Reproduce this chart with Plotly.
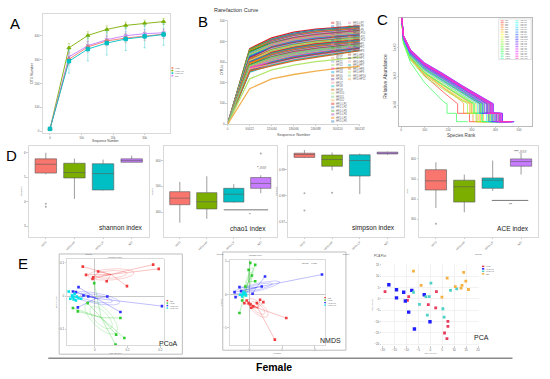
import numpy as np
import colorsys
import plotly.graph_objects as go

W, H = 550, 379
FONT = "Liberation Sans, Arial, sans-serif"

# ======================= DATA =======================
# Panel A: OTU rarefaction by group
A_seq = [0, 6000, 12000, 18000, 24000, 30000, 36000]
A_groups = ["HFD", "HFD-HP", "HFD-LP", "ND"]
A_HFD = [10, 301, 353, 378, 390, 398, 406]
A_HFD_HP = [10, 349, 401, 426, 443, 452, 459]
A_HFD_LP = [10, 293, 344, 369, 386, 397, 405]
A_ND = [10, 311, 358, 383, 400, 408, 412]
A_HFD_err = [2, 25, 22, 20, 20, 18, 18]
A_HFD_HP_err = [2, 18, 15, 15, 14, 13, 13]
A_HFD_LP_err = [2, 50, 50, 50, 48, 48, 45]
A_ND_err = [2, 22, 20, 20, 18, 18, 17]
A_xticks = [0, 10000, 20000, 30000]
A_yticks = [0, 100, 200, 300, 400]

# Panel B: per-sample rarefaction curves
SAMPLES = ([f"ND{i}" for i in range(1, 12)] + [f"HFD{i}" for i in range(1, 13)]
           + [f"HFD-LP{i}" for i in range(1, 13)] + [f"HFD-HP{i}" for i in range(1, 12)])
B_seq = [0, 60022, 120044, 180066, 240088, 300110, 360132]
B_otus = [
    [365, 418, 446, 460, 469, 476], [358, 412, 441, 456, 465, 472], [362, 409, 436, 451, 461, 468],
    [350, 405, 433, 449, 458, 466], [355, 401, 428, 445, 455, 463], [346, 398, 426, 442, 452, 460],
    [340, 396, 423, 439, 449, 457], [352, 394, 419, 435, 446, 454], [337, 390, 416, 432, 443, 451],
    [343, 388, 413, 429, 439, 448], [333, 385, 411, 427, 437, 445], [328, 381, 407, 423, 434, 442],
    [336, 379, 404, 420, 431, 440], [322, 376, 402, 418, 428, 437], [330, 374, 399, 415, 426, 434],
    [318, 371, 396, 412, 423, 432], [325, 368, 393, 409, 420, 429], [314, 366, 390, 406, 417, 426],
    [309, 362, 387, 403, 414, 423], [316, 359, 384, 400, 411, 420], [305, 357, 381, 397, 408, 418],
    [300, 353, 378, 394, 405, 415], [308, 350, 375, 391, 402, 412], [296, 347, 372, 388, 399, 409],
    [302, 344, 369, 385, 396, 406], [291, 341, 366, 382, 393, 403], [287, 338, 363, 379, 390, 400],
    [294, 335, 360, 376, 387, 398], [283, 332, 357, 373, 384, 395], [279, 329, 354, 370, 381, 392],
    [286, 326, 351, 367, 378, 389], [275, 322, 348, 364, 375, 386], [270, 318, 344, 360, 372, 383],
    [278, 315, 341, 357, 369, 380], [266, 311, 337, 353, 365, 377], [262, 306, 333, 349, 361, 374],
    [271, 303, 329, 346, 358, 372], [258, 300, 326, 343, 355, 370], [264, 297, 322, 339, 352, 368],
    [255, 293, 318, 335, 348, 365], [268, 290, 314, 331, 345, 362], [252, 286, 310, 327, 341, 358],
    [256, 282, 306, 323, 338, 356], [219, 262, 285, 302, 314, 324], [282, 322, 345, 360, 372, 384],
    [171, 219, 240, 256, 270, 280],
]
B_ticktext = ["0", "60022", "120044", "180066", "240088", "300110", "360132"]

# Panel C: rank-abundance curves (log10 relative abundance)
C_ranks = [1, 10, 40, 100, 180, 260]
C_levels = [-3.95, -4.28, -4.57]
C_smooth = [
    [-0.70, -1.75, -2.35, -2.98, -3.55],
    [-0.80, -1.76, -2.36, -2.90, -3.32, -3.75],
    [-0.78, -1.70, -2.25, -2.74, -3.14, -3.56],
    [-0.82, -1.80, -2.40, -2.95, -3.40, -3.82],
    [-0.72, -1.72, -2.30, -2.86, -3.40, -3.88],
    [-0.79, -1.69, -2.23, -2.71, -3.11, -3.53],
    [-0.77, -1.72, -2.30, -2.82, -3.24, -3.66],
    [-0.81, -1.66, -2.18, -2.64, -3.02, -3.43],
    [-0.76, -1.74, -2.33, -2.87, -3.30, -3.72],
    [-0.83, -1.68, -2.21, -2.68, -3.07, -3.49],
    [-0.78, -1.78, -2.38, -2.93, -3.37, -3.80],
    [-0.75, -1.64, -2.17, -2.64, -3.03, -3.45],
    [-0.80, -1.71, -2.27, -2.78, -3.19, -3.61],
    [-0.84, -1.82, -2.44, -3.00, -3.46, -3.86],
    [-0.77, -1.66, -2.20, -2.68, -3.07, -3.49],
    [-0.79, -1.75, -2.33, -2.86, -3.29, -3.70],
    [-0.82, -1.70, -2.25, -2.74, -3.15, -3.57],
    [-0.76, -1.62, -2.14, -2.60, -2.99, -3.40],
    [-0.70, -1.85, -2.52, -3.22, -3.88],
    [-0.74, -1.69, -2.24, -2.73, -3.13, -3.55],
    [-0.81, -1.76, -2.35, -2.88, -3.31, -3.73],
    [-0.75, -1.62, -2.14, -2.60, -2.99, -3.40],
    [-0.73, -1.66, -2.19, -2.67, -3.07, -3.49],
    [-0.77, -1.60, -2.11, -2.57, -2.95, -3.36],
    [-0.74, -1.68, -2.22, -2.71, -3.12, -3.54],
    [-0.72, -1.59, -2.10, -2.56, -2.94, -3.35],
    [-0.76, -1.72, -2.29, -2.80, -3.22, -3.64],
    [-0.73, -1.61, -2.12, -2.58, -2.97, -3.38],
    [-0.75, -1.65, -2.18, -2.66, -3.06, -3.47],
    [-0.71, -1.58, -2.09, -2.55, -2.93, -3.34],
    [-0.74, -1.63, -2.15, -2.62, -3.01, -3.42],
    [-0.72, -1.70, -2.26, -2.76, -3.17, -3.59],
    [-0.76, -1.60, -2.11, -2.57, -2.96, -3.37],
    [-0.73, -1.64, -2.16, -2.63, -3.03, -3.44],
    [-0.75, -1.58, -2.08, -2.54, -2.92, -3.33],
    [-0.71, -1.67, -2.21, -2.69, -3.09, -3.51],
    [-0.74, -1.61, -2.13, -2.59, -2.98, -3.39],
    [-0.72, -1.57, -2.07, -2.53, -2.91, -3.32],
    [-0.75, -1.63, -2.16, -2.63, -3.02, -3.43],
    [-0.73, -1.59, -2.10, -2.56, -2.95, -3.36],
    [-0.76, -1.66, -2.20, -2.68, -3.08, -3.50],
    [-0.72, -1.60, -2.11, -2.58, -2.96, -3.37],
    [-0.74, -1.58, -2.09, -2.55, -2.93, -3.34],
    [-0.77, -1.62, -2.14, -2.61, -3.00, -3.41],
    [-0.79, -1.59, -2.10, -2.56, -2.94, -3.35],
    [-0.81, -1.61, -2.12, -2.59, -2.97, -3.38],
]
C_tail = [
    [240, 290, 360], [300, 335, 390], [335, 372, 425], [292, 322, 372], [265, 305, 370],
    [340, 380, 430], [318, 350, 402], [368, 405, 458], [305, 338, 388], [350, 392, 440],
    [296, 328, 376], [362, 402, 452], [330, 368, 418], [282, 318, 365], [352, 388, 438],
    [312, 345, 396], [338, 376, 428], [372, 412, 466], [195, 235, 283], [342, 382, 432],
    [308, 342, 392], [372, 414, 468], [350, 390, 442], [382, 420, 474], [344, 384, 436],
    [385, 424, 478], [325, 362, 412], [378, 418, 470], [356, 396, 446], [388, 428, 480],
    [366, 406, 458], [334, 372, 422], [380, 420, 472], [364, 402, 454], [390, 430, 480],
    [346, 386, 438], [376, 416, 468], [392, 430, 478], [364, 404, 456], [384, 422, 474],
    [354, 394, 446], [380, 418, 470], [388, 426, 476], [370, 410, 462], [386, 424, 472],
    [378, 416, 466],
]

# Panel D: alpha diversity boxplots (q1, median, q3, lower whisker, upper whisker)
D_groups = ["HFD", "HFD-HP", "HFD-LP", "ND"]
shannon_q1 = [5.17, 4.97, 4.48, 5.61]
shannon_med = [5.53, 5.19, 5.15, 5.68]
shannon_q3 = [5.75, 5.57, 5.55, 5.75]
shannon_lo = [5.12, 4.12, 4.46, 5.60]
shannon_hi = [6.00, 5.76, 5.72, 5.88]
shannon_out_g = ["HFD", "HFD"]
shannon_out_v = [3.92, 3.80]

chao1_q1 = [428.9, 412.5, 439.2, 492.4]
chao1_med = [454.4, 440.3, 469.6, 511.4]
chao1_q3 = [479.5, 475.7, 492.4, 534.2]
chao1_lo = [359.3, 374.5, 437.0, 473.4]
chao1_hi = [517.5, 539.2, 508.7, 543.0]
chao1_out_g = ["ND"]
chao1_out_v = [627.8]

simpson_q1 = [0.9947, 0.9913, 0.9876, 0.9960]
simpson_med = [0.9958, 0.9939, 0.9935, 0.9963]
simpson_q3 = [0.9963, 0.9956, 0.9957, 0.9967]
simpson_lo = [0.9945, 0.9897, 0.9807, 0.9957]
simpson_hi = [0.9975, 0.9966, 0.9962, 0.9969]
simpson_out_g = ["HFD", "HFD", "HFD-HP"]
simpson_out_v = [0.9810, 0.9744, 0.9812]

ace_q1 = [445.4, 385.4, 453.7, 563.9]
ace_med = [490.7, 461.5, 494.1, 586.8]
ace_q3 = [546.3, 494.1, 505.4, 600.0]
ace_lo = [356.1, 334.6, 440.5, 522.0]
ace_hi = [583.4, 522.0, 591.7, 629.3]
ace_out_g = ["HFD"]
ace_out_v = [278.0]

# Panel E1: PCoA coordinates per group
ORD_groups = ["ND", "HFD", "HFD-LP", "HFD-HP"]
PCoA_x = [
    [-0.037, 0.010, -0.027, -0.005, -0.007, 0.036, 0.098, 0.178, 0.195],
    [-0.002, -0.067, -0.052, -0.022, 0.065, 0.090, 0.078, 0.063],
    [-0.050, -0.058, -0.020, 0.038, -0.052, 0.078, 0.205, -0.067, -0.035],
    [-0.080, -0.070, -0.075, -0.065, -0.058, -0.050, -0.042, -0.062, -0.068, -0.055],
]
PCoA_y = [
    [0.089, 0.074, 0.064, 0.057, 0.052, 0.045, 0.030, 0.095, 0.082],
    [0.039, -0.036, -0.046, -0.021, -0.116, -0.126, -0.066, -0.146],
    [0.027, 0.012, -0.001, -0.001, -0.034, -0.048, -0.030, 0.014, 0.002],
    [0.014, 0.002, -0.008, -0.010, -0.013, -0.006, -0.008, 0.007, -0.003, -0.001],
]
# Panel E2: NMDS coordinates per group
NMDS_x = [
    [-0.08, -0.02, 0.03, 0.12, 0.23, 0.33, 0.43, 0.06, -0.15, 1.13, 0.78],
    [0.03, 0.18, -0.02, 0.08, 0.18, -0.12, -0.30, -0.22],
    [0.48, 0.38, -0.30, -0.45, -0.42, -0.25, 2.22, 0.10],
    [-0.20, -0.15, -0.22, -0.10, -0.18, -0.28, -0.12],
]
NMDS_y = [
    [-0.18, -0.26, -0.30, -0.36, -0.26, -0.16, -0.23, -0.40, -0.26, -0.71, -1.36],
    [0.95, 0.89, 0.74, 0.57, 0.40, 0.24, -0.56, -0.18],
    [0.54, 0.24, 0.22, 0.07, -0.08, 0.10, 0.60, 0.02],
    [0.00, 0.04, -0.06, -0.03, 0.07, -0.01, 0.02],
]
# Panel E3: PCA coordinates per group
PCA_groups = ["HFD", "HFD-LP", "HFD-HP", "ND"]
PCA_x = [
    [-18.9, -9.0, -9.5, -0.8, 2.6, 2.3, 7.4, 7.4, 6.0, 7.0],
    [-17.3, -14.1, -14.1, -11.1, -7.7, -10.4, -2.5, -9.0, -0.1, -6.6],
    [-7.0, 0.3, -1.8, -0.4, -4.5, -1.2, 5.3, 5.8, 8.5, 11.1],
    [-7.0, -3.8, 7.1, 4.9, 10.5, 12.9, 13.3, 14.9, 14.0, 16.0],
]
PCA_y = [
    [3.2, 1.0, -0.7, -2.6, 3.2, -4.0, -10.0, -12.2, -15.1, -17.6],
    [6.2, 4.0, 0.4, 2.9, 3.7, -1.0, 1.8, -5.9, -10.1, -13.3],
    [2.9, 6.9, 1.0, 1.0, -2.5, -7.2, -4.4, -8.1, 3.7, 4.4],
    [12.2, 5.9, 9.1, 0.7, 5.4, 4.7, 5.9, 7.8, 11.7, 4.1],
]

# ======================= STYLE / LAYOUT =======================
GG = ["#F8766D", "#7CAE00", "#00BFC4", "#C77CFF"]
ORD_COL = ["#ef3b3b", "#2ecc2e", "#2f2fff", "#00e0e8"]
PCA_COL = ["#e83a5c", "#1f1fff", "#4fd1c5", "#f5b041"]
B_PAL = ["#e41a1c", "#377eb8", "#4daf4a", "#984ea3", "#ff7f00", "#1f78b4", "#f781bf", "#33a02c",
         "#e7298a", "#66c2a5", "#fc8d62", "#8da0cb", "#a6d854", "#ff33cc", "#00aadd", "#b15928",
         "#6a3d9a", "#fb9a99", "#17becf", "#d2691e", "#b3e66b", "#7fc97f", "#f0b050"]

fig = go.Figure()
shapes, anns = [], []
layout = dict(width=W, height=H, margin=dict(l=0, r=0, t=0, b=0), paper_bgcolor="white",
              plot_bgcolor="white", showlegend=False, font=dict(family=FONT, size=3, color="#444"))

AX = dict(showline=True, mirror=True, linecolor="#d0d0d0", linewidth=0.8, ticks="outside",
          ticklen=1.5, tickwidth=0.5, tickcolor="#999", tickfont=dict(size=3, color="#666"),
          showgrid=False, zeroline=False)


def refs(i):
    return ("x" if i == 1 else f"x{i}"), ("y" if i == 1 else f"y{i}")


def add_axes(i, x0, x1, y0, y1, xr, yr, xextra=None, yextra=None):
    xa, ya = refs(i)
    xk = "xaxis" if i == 1 else f"xaxis{i}"
    yk = "yaxis" if i == 1 else f"yaxis{i}"
    layout[xk] = {**AX, "domain": [x0 / W, x1 / W], "anchor": ya, "range": xr, **(xextra or {})}
    layout[yk] = {**AX, "domain": [1 - y1 / H, 1 - y0 / H], "anchor": xa, "range": yr, **(yextra or {})}


def P(x, y):
    return x / W, 1 - y / H


def text(x, y, s, size, color="#222", xa="center", ya="middle", angle=0, bold=False):
    px, py = P(x, y)
    anns.append(dict(x=px, y=py, xref="paper", yref="paper", text=(f"<b>{s}</b>" if bold else s),
                     showarrow=False, font=dict(size=size, color=color, family=FONT),
                     xanchor=xa, yanchor=ya, textangle=angle, borderpad=0))


def rect(x0, y0, x1, y1, line=None, fill=None, lw=1):
    a0, b0 = P(x0, y0)
    a1, b1 = P(x1, y1)
    shapes.append(dict(type="rect", xref="paper", yref="paper", x0=a0, y0=b1, x1=a1, y1=b0,
                       line=dict(color=line or "rgba(0,0,0,0)", width=lw if line else 0),
                       fillcolor=fill or "rgba(0,0,0,0)"))


def seg(x0, y0, x1, y1, color, lw=1):
    a0, b0 = P(x0, y0)
    a1, b1 = P(x1, y1)
    shapes.append(dict(type="line", xref="paper", yref="paper", x0=a0, y0=b0, x1=a1, y1=b1,
                       line=dict(color=color, width=lw)))


def legend(x, y, dy, names, colors, size=2.5, w=2.2, h=1.5, kind="box"):
    for k, (n, c) in enumerate(zip(names, colors)):
        yy = y + k * dy
        if kind == "box":
            rect(x, yy - h / 2, x + w, yy + h / 2, fill=c)
        else:
            seg(x, yy, x + w, yy, c, 0.6)
        text(x + w + 0.8, yy, n, size, "#666", xa="left")


def rgba(hexc, a):
    hexc = hexc.lstrip("#")
    r, g, b = int(hexc[0:2], 16), int(hexc[2:4], 16), int(hexc[4:6], 16)
    return f"rgba({r},{g},{b},{a})"


# ---------------- Panel A ----------------
add_axes(1, 40, 170, 13, 133, [-2400, 38200], [-7, 491],
         dict(tickvals=A_xticks), dict(tickvals=A_yticks))
A_series = [("HFD-HP", A_HFD_HP, A_HFD_HP_err, GG[1], "triangle-up"),
            ("ND", A_ND, A_ND_err, GG[3], "x-thin"),
            ("HFD", A_HFD, A_HFD_err, GG[0], "circle"),
            ("HFD-LP", A_HFD_LP, A_HFD_LP_err, GG[2], "square")]
for name, vals, err, col, sym in A_series:
    fig.add_trace(go.Scatter(x=A_seq, y=vals, mode="lines+markers", name=name, xaxis="x", yaxis="y",
                             line=dict(color=col, width=0.9),
                             marker=dict(color=col, symbol=sym, size=3.5, line=dict(color=col, width=1)),
                             error_y=dict(type="data", array=err, color=rgba(col, 0.45),
                                          thickness=0.8, width=1.2)))
legend(171, 67.5, 2.6, A_groups, GG, size=2.3, w=1.8, h=1.6)
text(105, 141.5, "Sequence Number", 3.2, "#444")
text(30, 73, "OTU Number", 3.5, "#444", angle=-90)
text(12, 23, "A", 15, "#000")

# ---------------- Panel B ----------------
add_axes(2, 228, 362, 19, 124, [0, 360132], [0, 505],
         dict(tickvals=B_seq, ticktext=B_ticktext, linecolor="#c8c8c8", mirror=False),
         dict(tickvals=[0, 100, 200, 300, 400, 500], linecolor="#c8c8c8", mirror=False))
B_cols = [B_PAL[i % len(B_PAL)] for i in range(len(SAMPLES))]
for i, row in enumerate(B_otus):
    fig.add_trace(go.Scatter(x=B_seq, y=[0] + row, mode="lines", name=SAMPLES[i], xaxis="x2",
                             yaxis="y2", line=dict(color=B_cols[i], width=1.3)))
legend(333, 22, 3.55, SAMPLES[:29], [rgba(c, 0.45) for c in B_cols[:29]], size=2.6, w=3.2, h=2.2)
legend(350, 22, 3.55, SAMPLES[29:], [rgba(c, 0.45) for c in B_cols[29:]], size=2.6, w=3.2, h=2.2)
text(213, 9, "Rarefaction Curve", 5.5, "#333", xa="left")
text(295, 135, "Sequence Number", 4, "#555")
text(222, 70, "OTUs", 4, "#555", angle=-90)
text(203, 21, "B", 15, "#000")

# ---------------- Panel C ----------------
add_axes(3, 402, 537, 17, 126, [-8, 556], [-4.72, -0.97],
         dict(tickvals=[0, 100, 200, 300, 400, 500], linecolor="#aaaaaa", ticklen=1),
         dict(type="log", tickvals=[1e-2, 1e-3, 1e-4], ticktext=["1e-02", "1e-03", "1e-04"],
              tickangle=-90, linecolor="#aaaaaa"))
C_cols = []
for i in range(len(SAMPLES)):
    r, g, b = colorsys.hsv_to_rgb((i / len(SAMPLES)) * 0.92, 0.8, 1.0)
    C_cols.append(f"rgb({int(r*255)},{int(g*255)},{int(b*255)})")
for i, (sm, tl) in enumerate(zip(C_smooth, C_tail)):
    xs = C_ranks[:len(sm)] + [tl[0], tl[0], tl[1], tl[1], tl[2]]
    vs = sm + [C_levels[0], C_levels[1], C_levels[1], C_levels[2], C_levels[2]]
    fig.add_trace(go.Scatter(x=xs, y=[10 ** v for v in vs], mode="lines", name=SAMPLES[i],
                             xaxis="x3", yaxis="y3", line=dict(color=C_cols[i], width=0.7)))
rect(503, 18, 536, 59, line="#cccccc", fill="white", lw=0.6)
legend(505, 20, 1.72, SAMPLES[:23], C_cols[:23], size=1.6, w=3, kind="line")
legend(520, 20, 1.72, SAMPLES[23:], C_cols[23:], size=1.6, w=3, kind="line")
text(465, 135.5, "Species Rank", 4.6, "#444")
text(388, 76, "Relative Abundance", 5, "#444", angle=-90)
text(385, 19, "C", 15, "#000")

# ---------------- Panel D ----------------
D_panels = [
    (4, 26, 148, [2.56, 6.28], [3, 4, 5, 6], shannon_q1, shannon_med, shannon_q3, shannon_lo,
     shannon_hi, shannon_out_g, shannon_out_v, "shannon"),
    (5, 163, 278, [303.4, 657.0], [400, 500, 600], chao1_q1, chao1_med, chao1_q3, chao1_lo, chao1_hi,
     chao1_out_g, chao1_out_v, "chao1"),
    (6, 289, 407, [0.9643, 0.9991], [0.97, 0.98, 0.99], simpson_q1, simpson_med, simpson_q3,
     simpson_lo, simpson_hi, simpson_out_g, simpson_out_v, "simpson"),
    (7, 422, 543, [211.2, 664.9], [300, 400, 500, 600], ace_q1, ace_med, ace_q3, ace_lo, ace_hi,
     ace_out_g, ace_out_v, "ACE"),
]
for (i, x0, x1, yr, yt, q1, med, q3, lo, hi, og, ov, lab) in D_panels:
    xa, ya = refs(i)
    add_axes(i, x0, x1, 146, 238, [-0.6, 3.6], yr,
             dict(type="category", categoryorder="array", categoryarray=D_groups, tickangle=-45,
                  title=dict(text="Group", font=dict(size=2.5, color="#666"), standoff=2)),
             dict(tickvals=yt, title=dict(text=lab, font=dict(size=2.5, color="#666"), standoff=2)))
    for k, g in enumerate(D_groups):
        fig.add_trace(go.Box(x=[g], q1=[q1[k]], median=[med[k]], q3=[q3[k]], lowerfence=[lo[k]],
                             upperfence=[hi[k]], xaxis=xa, yaxis=ya, width=0.75, whiskerwidth=0,
                             fillcolor=GG[k], line=dict(color="#5a5a5a", width=0.6),
                             boxpoints=False, name=g))
    fig.add_trace(go.Scatter(x=og, y=ov, mode="markers", xaxis=xa, yaxis=ya,
                             marker=dict(color="#aaaaaa", size=2)))
text(120, 228, "shannon index", 6.6, "#222")
text(249, 229, "chao1 index", 6.6, "#222")
text(376, 229, "simpson index", 6.6, "#222")
text(518, 229, "ACE index", 6.6, "#222")
text(263, 168, "*,###", 4, "#222")
seg(224, 210.5, 269, 210.5, "#555", 0.8)
text(251, 215, "*", 4, "#222")
text(525, 151.5, "***,###", 4, "#222")
seg(496, 201, 533, 201, "#555", 0.8)
text(515, 205.5, "**", 4, "#222")
text(9, 156, "D", 15, "#000")


# ---------------- Panel E ----------------
def ordination(i, xs, ys, cols):
    xa, ya = refs(i)
    for g in range(len(xs)):
        x = np.array(xs[g], dtype=float)
        y = np.array(ys[g], dtype=float)
        cx, cy = x.mean(), y.mean()
        sx, sy = [], []
        for a, b in zip(x, y):
            sx += [cx, a, None]
            sy += [cy, b, None]
        fig.add_trace(go.Scatter(x=sx, y=sy, mode="lines", xaxis=xa, yaxis=ya,
                                 line=dict(color=rgba(cols[g], 0.45), width=0.7)))
        cov = np.cov(x, y)
        ev, evec = np.linalg.eigh(cov)
        t = np.linspace(0, 2 * np.pi, 80)
        for kk in (0.55, 0.8):
            pts = evec @ (np.sqrt(np.maximum(ev, 0))[:, None] * kk * np.vstack([np.cos(t), np.sin(t)]))
            fig.add_trace(go.Scatter(x=cx + pts[0], y=cy + pts[1], mode="lines", xaxis=xa, yaxis=ya,
                                     line=dict(color=rgba(cols[g], 0.4), width=0.6)))
    for g in range(len(xs)):
        fig.add_trace(go.Scatter(x=xs[g], y=ys[g], mode="markers", xaxis=xa, yaxis=ya,
                                 marker=dict(color=cols[g], symbol="square", size=2.6)))


ORD_AX = dict(zeroline=True, zerolinecolor="#b0b0b0", zerolinewidth=0.7, linecolor="#cfcfcf")
add_axes(8, 65, 163, 260, 347, [-0.085, 0.21], [-0.148, 0.112],
         {**ORD_AX, "title": dict(text="PC1 (21.3%)", font=dict(size=2.2, color="#777"), standoff=1)},
         {**ORD_AX, "title": dict(text="PC2 (12.4%)", font=dict(size=2.2, color="#777"), standoff=1)})
ordination(8, PCoA_x, PCoA_y, ORD_COL)
rect(57, 255, 182, 356, line="#bdbdbd", lw=1)
legend(166, 302, 2.5, ORD_groups, ORD_COL, size=2.2, w=1.6, h=1.4)
text(114, 258.5, "Unifrac PCoA", 2.5, "#666")
text(168, 345, "PCoA", 7, "#222")
text(20, 265, "E", 15, "#000")

add_axes(9, 230, 327, 261, 347, [-0.6, 2.32], [-1.53, 1.04],
         {**ORD_AX, "title": dict(text="NMDS1", font=dict(size=2.2, color="#777"), standoff=1)},
         {**ORD_AX, "title": dict(text="NMDS2", font=dict(size=2.2, color="#777"), standoff=1)})
ordination(9, NMDS_x, NMDS_y, ORD_COL)
rect(223, 253, 348, 352, line="#bdbdbd", lw=1)
legend(326, 299, 2.5, ORD_groups, ORD_COL, size=2.2, w=1.6, h=1.4)
text(256, 257, "NMDS Plot", 2.5, "#666")
text(312, 264, "Stress = 0.135", 2.3, "#666")
text(332, 342, "NMDS", 7, "#222")

add_axes(10, 385, 483, 265, 347, [-20, 20.4], [-20.5, 15.4],
         dict(showline=False, showgrid=True, gridcolor="#e6e6e6", gridwidth=0.5,
              tickvals=list(range(-20, 21, 5)),
              title=dict(text="PC1 (18.1%)", font=dict(size=2.2, color="#777"), standoff=1)),
         dict(showline=False, showgrid=True, gridcolor="#e6e6e6", gridwidth=0.5,
              tickvals=list(range(-20, 16, 5)),
              title=dict(text="PC2 (11.2%)", font=dict(size=2.2, color="#777"), standoff=1)))
for g in range(len(PCA_groups)):
    fig.add_trace(go.Scatter(x=PCA_x[g], y=PCA_y[g], mode="markers", xaxis="x10", yaxis="y10",
                             marker=dict(color=PCA_COL[g], symbol="square",
                                         size=3.4 if g == 1 else 2.8)))
legend(486, 267.5, 2.5, PCA_groups, PCA_COL, size=2.2, w=2.4, h=1.5)
text(375, 257, "PCA Plot", 3, "#555", xa="left")
text(486, 339, "PCA", 7, "#222")

# ---------------- footer ----------------
seg(46, 360, 517, 360, "#8a8a8a", 1.5)
text(275, 368.5, "Female", 10.5, "#000", bold=True)

layout["shapes"] = shapes
layout["annotations"] = anns
fig.update_layout(**layout)
fig.write_html("out.html", config={"displayModeBar": False, "staticPlot": True},
               post_script="document.body.style.margin='0';document.body.style.padding='0';"
                           "document.documentElement.style.overflow='hidden';")
